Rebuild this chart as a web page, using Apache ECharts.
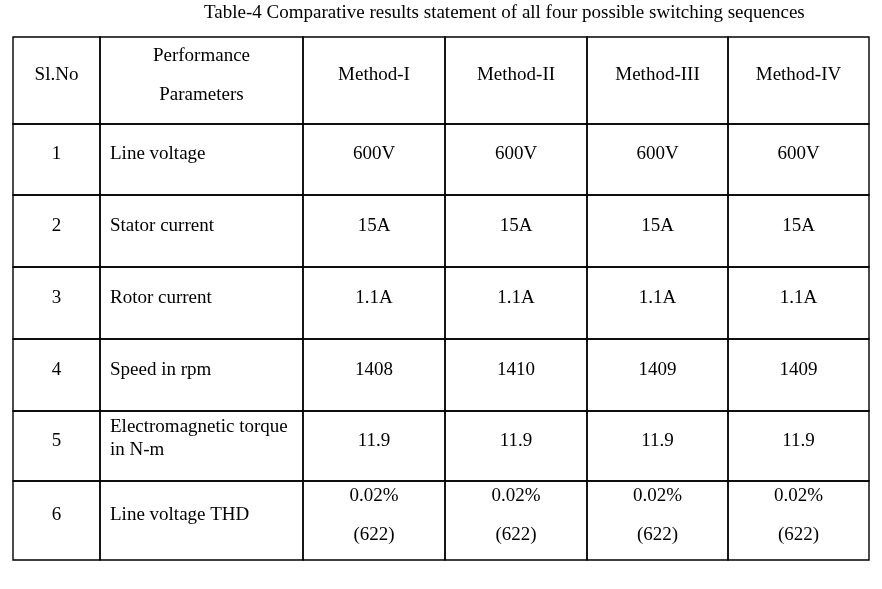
<!DOCTYPE html>
<html>
<head>
<meta charset="utf-8">
<script src="https://cdn.jsdelivr.net/npm/echarts@6/dist/echarts.min.js"></script>
<style>html,body{margin:0;padding:0;background:#fff;}#c{width:882px;height:589px;}</style>
</head>
<body>
<div id="c"></div>
<script>
// ---- data ----
var titleText = 'Table-4 Comparative results statement of all four possible switching sequences';
var headerSlNo = 'Sl.No';
var headerParam = 'Performance\nParameters';
var methods = ['Method-I', 'Method-II', 'Method-III', 'Method-IV'];
var slNo = ['1', '2', '3', '4', '5', '6'];
var parameters = ['Line voltage', 'Stator current', 'Rotor current', 'Speed in rpm', 'Electromagnetic torque\nin N-m', 'Line voltage THD'];
var method1 = ['600V', '15A', '1.1A', '1408', '11.9', '0.02%\n(622)'];
var method2 = ['600V', '15A', '1.1A', '1410', '11.9', '0.02%\n(622)'];
var method3 = ['600V', '15A', '1.1A', '1409', '11.9', '0.02%\n(622)'];
var method4 = ['600V', '15A', '1.1A', '1409', '11.9', '0.02%\n(622)'];

// ---- layout (column / row edges in table units) ----
var colEdges = [0, 87, 290, 432, 574, 715, 856];
var rowEdges = [0, 87, 158, 230, 302, 374, 444, 523];
var FONT = '"Liberation Serif", "Times New Roman", serif';
var FS = 19;

// build cells: [col, row, textIndex]
var cellTexts = [];
var cells = [];
function addCell(c, r, t) { cells.push([c, r, cellTexts.length]); cellTexts.push(t); }
addCell(0, 0, headerSlNo);
addCell(1, 0, headerParam);
methods.forEach(function (m, i) { addCell(2 + i, 0, m); });
var methodCols = [method1, method2, method3, method4];
for (var r = 0; r < slNo.length; r++) {
  addCell(0, r + 1, slNo[r]);
  addCell(1, r + 1, parameters[r]);
  for (var k = 0; k < 4; k++) addCell(2 + k, r + 1, methodCols[k][r]);
}

function renderItem(params, api) {
  var c = api.value(0), r = api.value(1), idx = api.value(2);
  var p0 = api.coord([colEdges[c], rowEdges[r]]);
  var p1 = api.coord([colEdges[c + 1], rowEdges[r + 1]]);
  var txt = cellTexts[idx];
  var tight = (txt.indexOf('Electromagnetic') === 0);
  var multiLH = tight ? 23 : 39;
  var leftAlign = (c === 1 && r > 0);
  var cx = leftAlign ? p0[0] + 10 : (p0[0] + p1[0]) / 2;
  var cy = (p0[1] + p1[1]) / 2 - (tight ? 7.5 : 5);
  return {
    type: 'group',
    children: [
      { type: 'rect', shape: { x: p0[0], y: p0[1], width: p1[0] - p0[0], height: p1[1] - p0[1] },
        style: { fill: 'none', stroke: '#000', lineWidth: 1.4 } },
      { type: 'text', style: { text: txt, x: cx, y: cy, align: leftAlign ? 'left' : 'center', verticalAlign: 'middle',
        fontFamily: FONT, fontSize: FS, lineHeight: multiLH, fill: '#000' } }
    ]
  };
}

var chart = echarts.init(document.getElementById('c'));
chart.setOption({
  backgroundColor: '#fff',
  animation: false,
  title: { text: titleText, left: 204, top: 4, padding: 0,
    textStyle: { fontFamily: FONT, fontSize: FS, fontWeight: 'normal', color: '#000' } },
  grid: { left: 13, top: 37, width: 856, height: 523 },
  xAxis: { type: 'value', min: 0, max: 856, show: false },
  yAxis: { type: 'value', min: 0, max: 523, inverse: true, show: false },
  series: [{ type: 'custom', renderItem: renderItem, data: cells, encode: { x: 0, y: 1 }, clip: false }]
});
</script>
</body>
</html>
